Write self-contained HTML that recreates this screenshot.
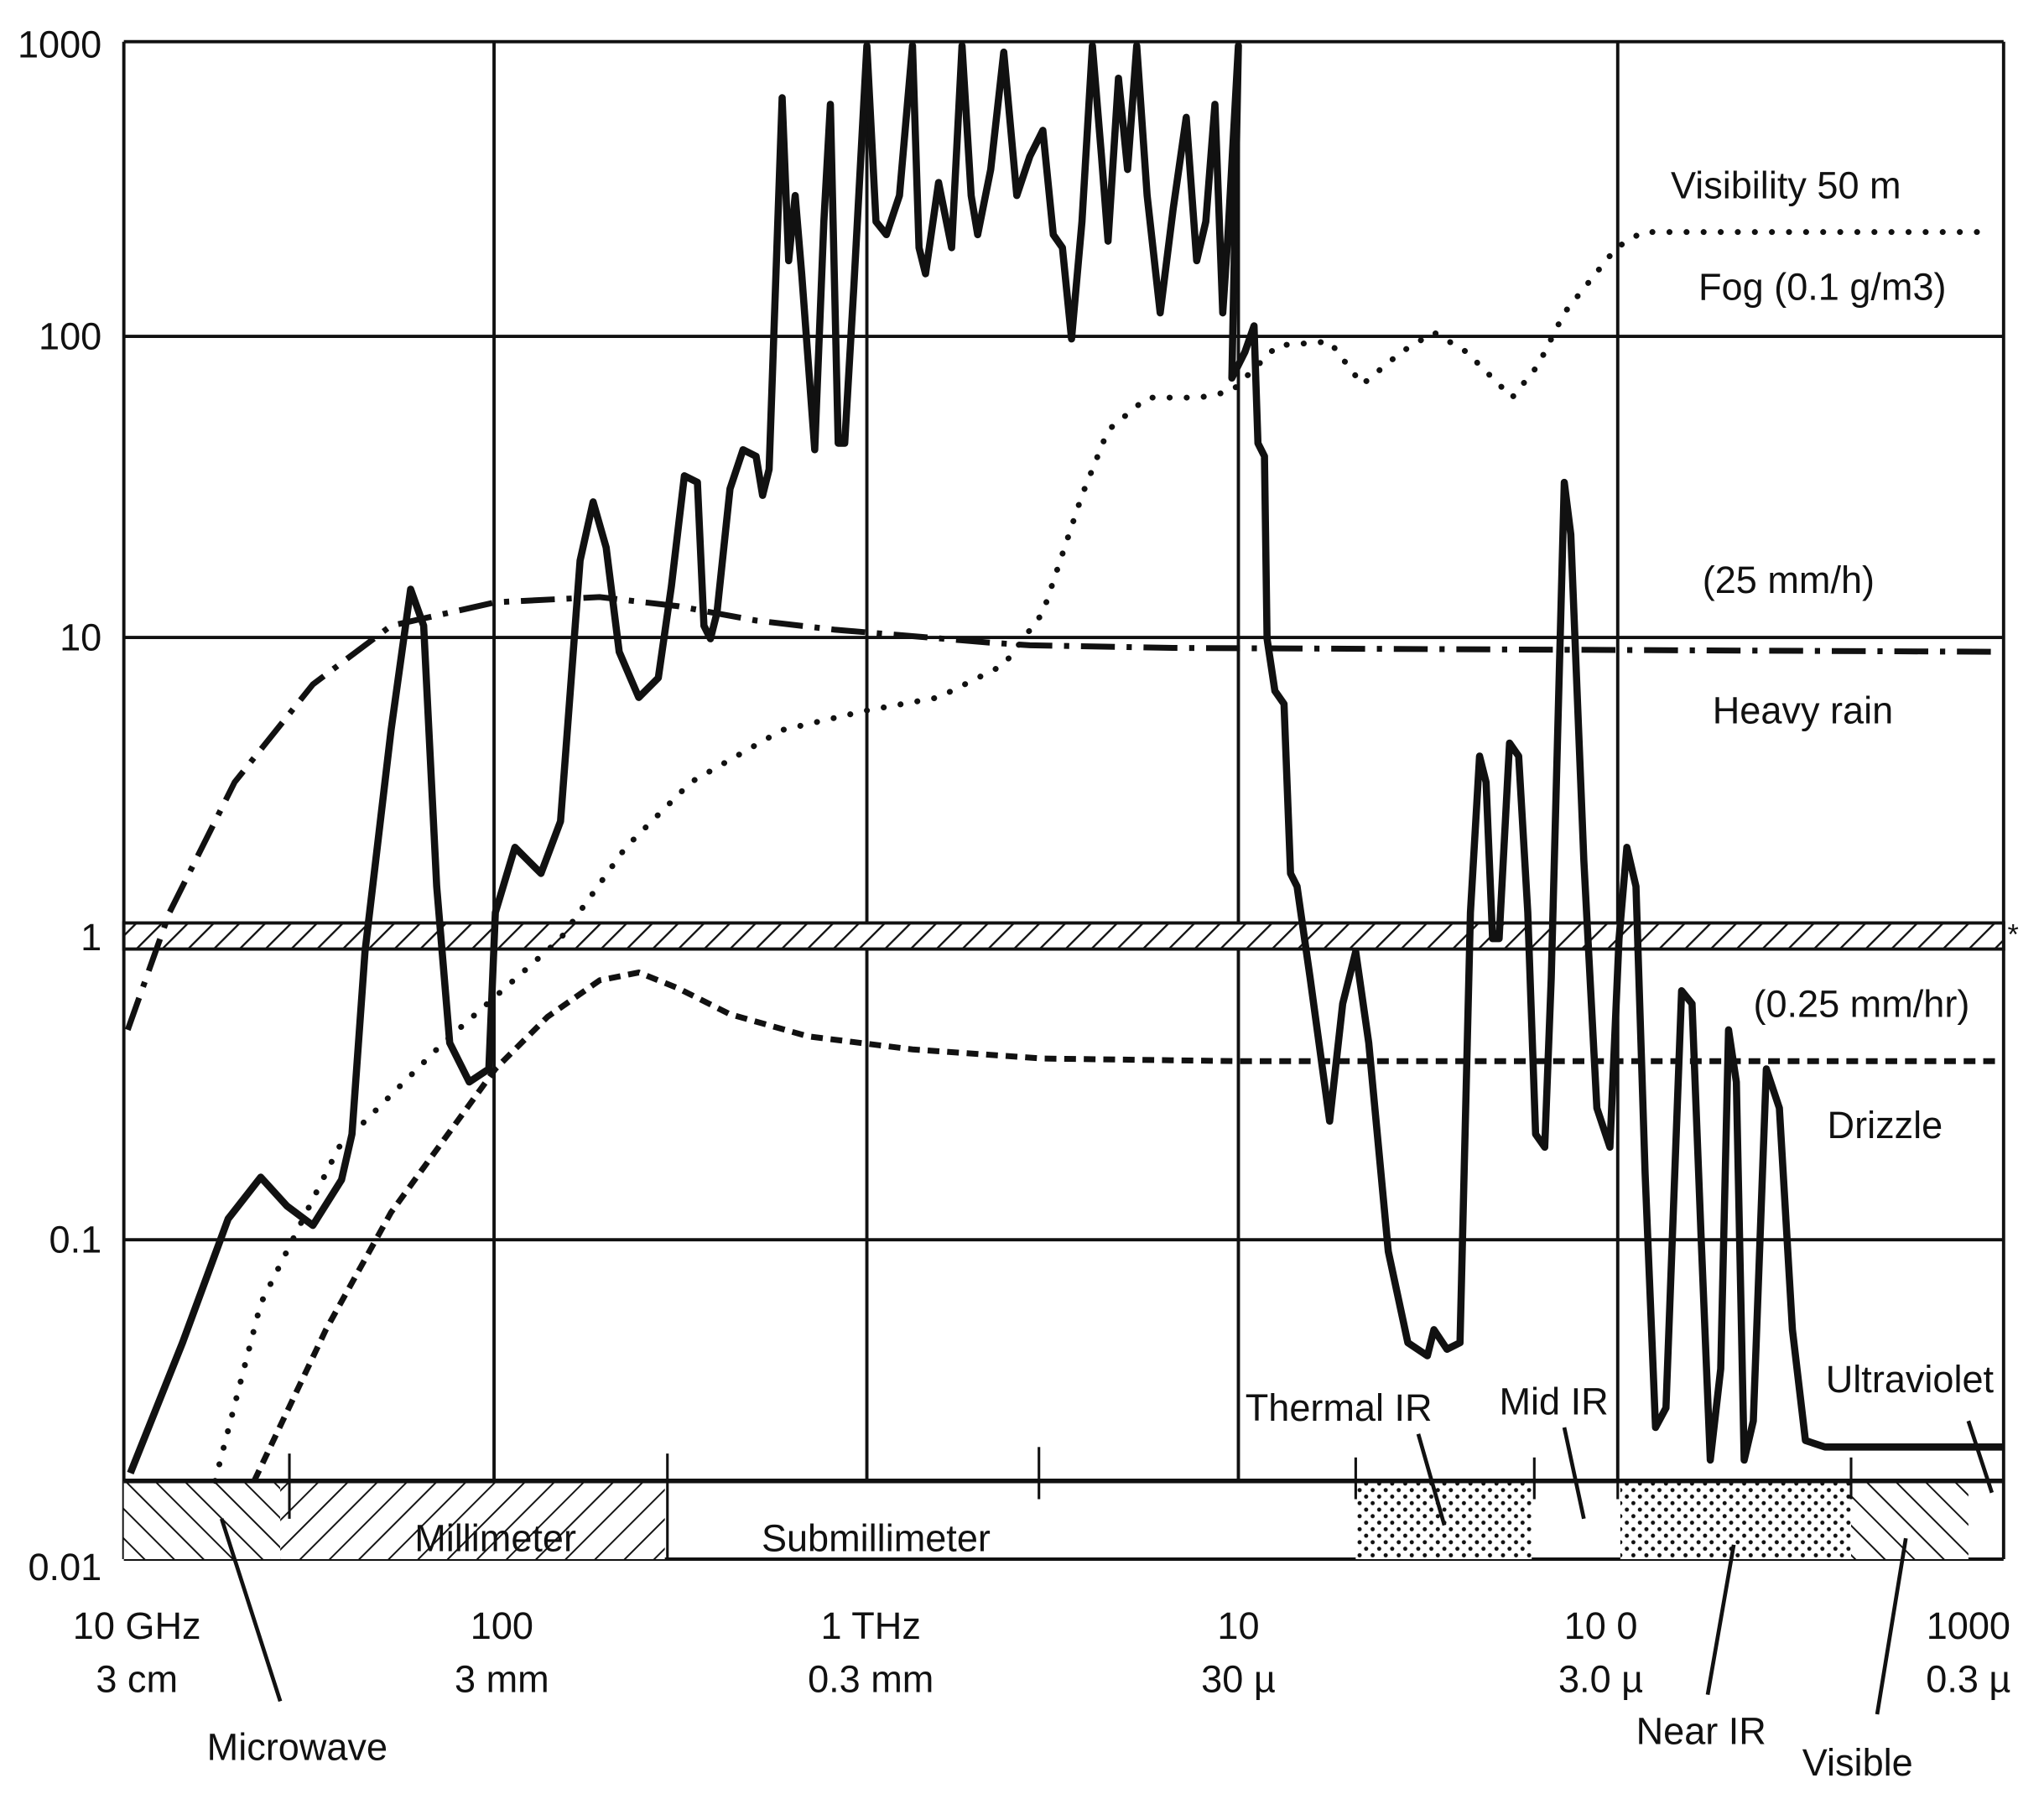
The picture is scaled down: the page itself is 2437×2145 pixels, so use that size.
<!DOCTYPE html>
<html><head><meta charset="utf-8"><style>
html,body{margin:0;padding:0;background:#fff;}
svg{display:block;}
text{font-family:"Liberation Sans",sans-serif;font-size:29px;fill:#111;}
</style></head><body>
<svg width="2437" height="2145" viewBox="0 0 1568 1380" preserveAspectRatio="none" xmlns="http://www.w3.org/2000/svg">
<defs>
<pattern id="fw" width="14" height="14" patternUnits="userSpaceOnUse" patternTransform="rotate(45)"><rect width="14" height="14" fill="#fff"/><line x1="0" y1="0" x2="0" y2="14" stroke="#111" stroke-width="3"/></pattern>
<pattern id="bw" width="16" height="16" patternUnits="userSpaceOnUse" patternTransform="rotate(-45)"><rect width="16" height="16" fill="#fff"/><line x1="0" y1="0" x2="0" y2="16" stroke="#111" stroke-width="2.5"/></pattern>
<pattern id="fw2" width="16" height="16" patternUnits="userSpaceOnUse" patternTransform="rotate(45)"><rect width="16" height="16" fill="#fff"/><line x1="0" y1="0" x2="0" y2="16" stroke="#111" stroke-width="2.5"/></pattern>
<pattern id="dots" width="10" height="10" patternUnits="userSpaceOnUse"><rect width="10" height="10" fill="#fff"/><circle cx="3" cy="3" r="1.6" fill="#111"/><circle cx="8" cy="8" r="1.6" fill="#111"/></pattern>
</defs>
<rect width="1568" height="1380" fill="#fff"/>
<g stroke="#111" stroke-width="2.5" fill="none">
<line x1="95" y1="32" x2="1537" y2="32"/>
<line x1="95" y1="258" x2="1537" y2="258"/>
<line x1="95" y1="489" x2="1537" y2="489"/>
<line x1="95" y1="951" x2="1537" y2="951"/>
<line x1="95" y1="1196" x2="1537" y2="1196"/>
<line x1="95" y1="32" x2="95" y2="1196"/>
<line x1="379" y1="32" x2="379" y2="1136"/>
<line x1="665" y1="32" x2="665" y2="1136"/>
<line x1="950" y1="32" x2="950" y2="1136"/>
<line x1="1241" y1="32" x2="1241" y2="1136"/>
<line x1="1537" y1="32" x2="1537" y2="1196"/>
</g>
<rect x="95" y="708" width="1442" height="20" fill="url(#fw)" stroke="#111" stroke-width="2.5"/>
<text x="1540" y="724" style="font-size:22px">*</text>
<rect x="95" y="1136" width="120" height="60" fill="url(#bw)"/>
<rect x="215" y="1136" width="295" height="60" fill="url(#fw2)"/>
<rect x="1040" y="1136" width="135" height="60" fill="url(#dots)"/>
<rect x="1243" y="1136" width="177" height="60" fill="url(#dots)"/>
<rect x="1420" y="1136" width="90" height="60" fill="url(#bw)"/>
<line x1="95" y1="1136" x2="1537" y2="1136" stroke="#111" stroke-width="3.5"/>
<g stroke="#111" stroke-width="2"><line x1="222" y1="1115" x2="222" y2="1165"/><line x1="512" y1="1115" x2="512" y2="1196"/><line x1="797" y1="1110" x2="797" y2="1150"/><line x1="1040" y1="1118" x2="1040" y2="1150"/><line x1="1177" y1="1118" x2="1177" y2="1150"/><line x1="1241" y1="1118" x2="1241" y2="1150"/><line x1="1420" y1="1118" x2="1420" y2="1150"/></g>
<path d="M98,790 L130,700 L180,600 L240,525 L300,480 L380,462 L460,458 L520,465 L580,476 L640,483 L700,488 L760,493 L790,495 L900,497 L1537,500" fill="none" stroke="#111" stroke-width="4.5" stroke-dasharray="26,9,4,9"/>
<path d="M195,1136 L250,1020 L300,930 L380,820 L420,780 L460,752 L490,746 L520,758 L560,778 L620,795 L700,805 L800,812 L950,814 L1537,814" fill="none" stroke="#111" stroke-width="4.5" stroke-dasharray="9,6"/>
<path d="M165,1136 L200,1000 L260,880 L340,800 L430,720 L480,650 L530,600 L600,560 L665,545 L720,535 L770,510 L800,470 L830,380 L850,330 L880,305 L920,305 L945,300 L980,265 L1020,262 L1045,295 L1075,270 L1100,255 L1125,270 L1160,305 L1180,280 L1200,240 L1240,190 L1260,178 L1520,178" fill="none" stroke="#111" stroke-width="4.5" stroke-linecap="round" stroke-dasharray="0.1,13"/>
<path d="M100,1130 L140,1030 L175,935 L200,903 L220,925 L240,940 L262,905 L270,870 L280,730 L300,560 L315,452 L325,480 L335,680 L345,800 L360,830 L375,820 L380,700 L395,650 L405,660 L415,670 L430,630 L445,430 L455,385 L465,420 L475,500 L490,535 L505,520 L515,450 L525,365 L535,370 L540,480 L545,490 L550,470 L560,375 L570,345 L580,350 L585,380 L590,360 L600,75 L605,200 L610,150 L615,210 L625,345 L632,170 L637,80 L643,340 L648,340 L655,220 L665,35 L672,170 L680,180 L690,150 L700,35 L705,190 L710,210 L720,140 L730,190 L738,35 L745,150 L750,180 L760,130 L770,40 L780,150 L790,120 L800,100 L808,180 L815,190 L822,260 L830,170 L838,35 L845,120 L850,185 L858,60 L865,130 L872,35 L880,150 L890,240 L900,160 L910,90 L918,200 L925,170 L932,80 L938,240 L942,180 L950,35 L945,290 L955,270 L962,250 L965,340 L970,350 L972,490 L978,530 L985,540 L990,670 L995,680 L1005,750 L1020,860 L1030,770 L1040,730 L1050,800 L1065,960 L1080,1030 L1095,1040 L1100,1020 L1110,1035 L1120,1030 L1128,700 L1135,580 L1140,600 L1145,720 L1150,720 L1158,570 L1165,580 L1172,700 L1178,870 L1185,880 L1190,750 L1200,370 L1205,410 L1215,660 L1225,850 L1235,880 L1242,720 L1248,650 L1255,680 L1262,900 L1270,1095 L1278,1080 L1290,760 L1298,770 L1305,950 L1312,1120 L1320,1050 L1326,790 L1332,830 L1338,1120 L1345,1090 L1355,820 L1365,850 L1375,1020 L1385,1105 L1400,1110 L1537,1110" fill="none" stroke="#111" stroke-width="5.5" stroke-linejoin="round"/>
<g stroke="#111" stroke-width="3"><line x1="170" y1="1165" x2="215" y2="1305"/><line x1="1088" y1="1100" x2="1108" y2="1170"/><line x1="1200" y1="1095" x2="1215" y2="1165"/><line x1="1330" y1="1185" x2="1310" y2="1300"/><line x1="1462" y1="1180" x2="1440" y2="1315"/><line x1="1510" y1="1090" x2="1528" y2="1145"/></g>
<g text-anchor="end"><text x="78" y="44">1000</text><text x="78" y="268">100</text><text x="78" y="499">10</text><text x="78" y="729">1</text><text x="78" y="961">0.1</text><text x="78" y="1212">0.01</text></g>
<g text-anchor="middle">
<text x="105" y="1257">10 GHz</text><text x="105" y="1298">3 cm</text>
<text x="385" y="1257">100</text><text x="385" y="1298">3 mm</text>
<text x="668" y="1257">1 THz</text><text x="668" y="1298">0.3 mm</text>
<text x="950" y="1257">10</text><text x="950" y="1298">30 µ</text>
<text x="1228" y="1257">10 0</text><text x="1228" y="1298">3.0 µ</text>
<text x="1510" y="1257">1000</text><text x="1510" y="1298">0.3 µ</text>
<text x="228" y="1350">Microwave</text><text x="1305" y="1338">Near IR</text><text x="1425" y="1362">Visible</text>
<text x="380" y="1190">Millimeter</text><text x="672" y="1190">Submillimeter</text>
<text x="1027" y="1090">Thermal IR</text><text x="1192" y="1085">Mid IR</text><text x="1465" y="1068">Ultraviolet</text>
<text x="1370" y="152">Visibility 50 m</text><text x="1398" y="230">Fog (0.1 g/m3)</text>
<text x="1372" y="455">(25 mm/h)</text><text x="1383" y="555">Heavy rain</text>
<text x="1428" y="780">(0.25 mm/hr)</text><text x="1446" y="873">Drizzle</text>
</g>
</svg>
</body></html>
